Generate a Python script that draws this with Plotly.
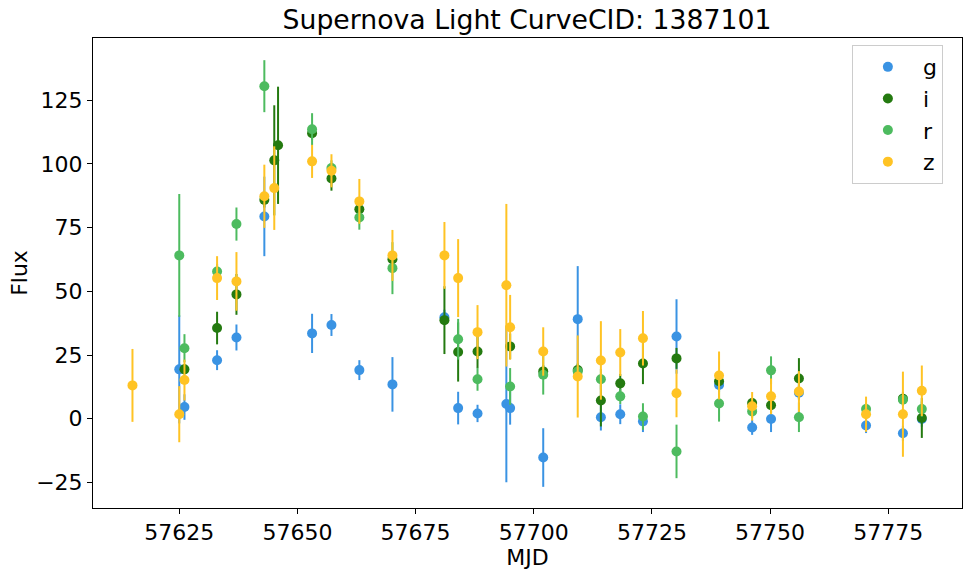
import plotly.graph_objects as go

# ---- data ----
g_mjd  = [57625.0, 57626.1, 57633.0, 57637.1, 57643.0, 57653.1, 57657.2, 57663.1, 57670.1, 57681.1,
          57684.0, 57688.1, 57694.2, 57695.0, 57702.0, 57709.3, 57714.2, 57718.3, 57723.1, 57730.2,
          57739.2, 57746.2, 57750.2, 57756.1, 57770.3, 57778.1, 57782.1]
g_flux = [19.4, 4.6, 23.0, 31.9, 79.4, 33.5, 36.8, 19.1, 13.5, 39.8,
          4.2, 2.1, 5.8, 4.2, -15.2, 39.1, 0.6, 1.8, -1.0, 32.3,
          13.3, -3.4, -0.1, 10.2, -2.6, -5.7, -0.1]
g_err  = [21.2, 5.0, 3.9, 5.1, 15.6, 7.7, 4.3, 3.9, 10.7, 3.0,
          6.4, 3.4, 30.7, 6.5, 11.5, 20.8, 5.2, 3.9, 4.2, 14.6,
          3.0, 2.9, 5.1, 3.0, 3.0, 3.0, 3.0]

i_mjd  = [57626.1, 57633.0, 57637.1, 57643.0, 57645.1, 57645.9, 57653.1, 57657.2, 57663.1, 57670.1,
          57681.1, 57684.0, 57688.1, 57695.0, 57702.0, 57709.3, 57714.2, 57718.3, 57723.1, 57730.2,
          57739.2, 57746.2, 57750.2, 57756.1, 57778.1, 57782.1]
i_flux = [19.4, 35.6, 48.8, 85.9, 101.4, 107.3, 112.0, 94.3, 82.2, 62.6,
          38.7, 26.2, 26.4, 28.4, 18.6, 19.1, 7.2, 13.9, 21.7, 23.7,
          14.7, 6.2, 5.3, 15.8, 7.9, 0.3]
i_err  = [2.0, 6.4, 8.0, 3.0, 21.6, 23.0, 2.5, 4.8, 2.5, 3.0,
          13.3, 11.6, 6.5, 5.0, 2.5, 2.5, 10.2, 3.7, 8.1, 4.1,
          2.5, 2.0, 3.0, 8.0, 2.5, 7.8]

r_mjd  = [57625.0, 57626.1, 57633.0, 57637.1, 57643.0, 57653.1, 57657.2, 57663.1, 57670.1, 57684.0,
          57688.1, 57695.0, 57702.0, 57709.3, 57714.2, 57718.3, 57723.1, 57730.2, 57739.2, 57746.2,
          57750.2, 57756.1, 57770.3, 57778.1, 57782.1]
r_flux = [64.1, 27.7, 57.8, 76.4, 130.5, 113.6, 98.4, 79.0, 59.1, 31.2,
          15.5, 12.7, 17.3, 18.6, 15.5, 8.8, 0.9, -12.8, 6.0, 2.9,
          19.0, 0.6, 3.8, 7.5, 3.8]
r_err  = [24.1, 5.5, 3.0, 6.5, 10.2, 6.3, 3.0, 4.8, 10.2, 8.0,
          4.5, 7.2, 7.8, 3.0, 4.0, 3.0, 5.2, 10.5, 7.1, 2.5,
          5.5, 5.8, 2.5, 2.5, 3.0]

z_mjd  = [57615.1, 57625.0, 57626.1, 57633.0, 57637.1, 57643.0, 57645.1, 57653.1, 57657.2, 57663.1,
          57670.1, 57681.1, 57684.0, 57688.1, 57694.2, 57695.0, 57702.0, 57709.3, 57714.2, 57718.3,
          57723.1, 57730.2, 57739.2, 57746.2, 57750.2, 57756.1, 57770.3, 57778.1, 57782.1]
z_flux = [13.1, 1.8, 15.2, 55.2, 53.9, 87.3, 90.5, 101.0, 97.3, 85.3,
          64.1, 64.1, 55.2, 34.0, 52.4, 35.9, 26.4, 16.6, 22.9, 26.0,
          31.6, 10.0, 17.0, 4.9, 8.8, 10.7, 1.8, 1.8, 11.0]
z_err  = [14.3, 11.0, 8.0, 8.6, 11.5, 12.4, 16.4, 6.5, 6.5, 8.8,
          10.0, 13.1, 15.3, 10.6, 31.9, 12.7, 9.5, 16.1, 15.4, 9.2,
          10.7, 9.4, 9.4, 5.6, 7.0, 8.0, 6.9, 16.7, 9.9]

x_ticks = [57625, 57650, 57675, 57700, 57725, 57750, 57775]
x_tick_labels = ["57625", "57650", "57675", "57700", "57725", "57750", "57775"]
y_ticks = [-25, 0, 25, 50, 75, 100, 125]
y_tick_labels = ["\u221225", "0", "25", "50", "75", "100", "125"]

bands = ["g", "i", "r", "z"]
colors = {"g": "#3A93E3", "i": "#247A10", "r": "#4DBB5F", "z": "#FFC324"}
series = {
    "g": (g_mjd, g_flux, g_err),
    "i": (i_mjd, i_flux, i_err),
    "r": (r_mjd, r_flux, r_err),
    "z": (z_mjd, z_flux, z_err),
}

FONT = "DejaVu Sans"

fig = go.Figure()
for b in bands:
    x, y, e = series[b]
    fig.add_trace(go.Scatter(
        x=x, y=y, mode="markers", name=b,
        marker=dict(color=colors[b], size=10, line=dict(width=0)),
        error_y=dict(type="data", array=e, visible=True, color=colors[b],
                     thickness=2, width=0),
    ))

fig.update_layout(
    width=971, height=572,
    margin=dict(l=93, r=9, t=38, b=64, autoexpand=False),
    paper_bgcolor="white", plot_bgcolor="white",
    font=dict(family=FONT, size=22, color="black"),
    title=dict(text="Supernova Light CurveCID: 1387101", x=0.5427, xanchor="center",
               y=1 - 20 / 572, yanchor="middle", yref="container",
               font=dict(family=FONT, size=26.7, color="black")),
    showlegend=True,
    legend=dict(x=0.978, y=0.985, xanchor="right", yanchor="top",
                bgcolor="rgba(255,255,255,0.8)", bordercolor="#cccccc", borderwidth=1,
                font=dict(family=FONT, size=22, color="black"),
                itemwidth=60, tracegroupgap=0),
)
fig.update_xaxes(
    range=[57606.75, 57790.6], tickmode="array",
    tickvals=x_ticks, ticktext=x_tick_labels,
    ticks="outside", ticklen=5, tickwidth=1, tickcolor="black",
    showline=True, linecolor="black", linewidth=1, mirror=True,
    showgrid=False, zeroline=False, automargin=False,
    title=dict(text="MJD", standoff=0, font=dict(family=FONT, size=22)),
    tickfont=dict(family=FONT, size=22),
)
fig.update_yaxes(
    range=[-35.0, 149.4], tickmode="array",
    tickvals=y_ticks, ticktext=y_tick_labels,
    ticks="outside", ticklen=5, tickwidth=1, tickcolor="black",
    showline=True, linecolor="black", linewidth=1, mirror=True,
    showgrid=False, zeroline=False, automargin=False,
    title=dict(text="Flux", standoff=2, font=dict(family=FONT, size=22)),
    tickfont=dict(family=FONT, size=22),
)

fig.write_html("out.html")
